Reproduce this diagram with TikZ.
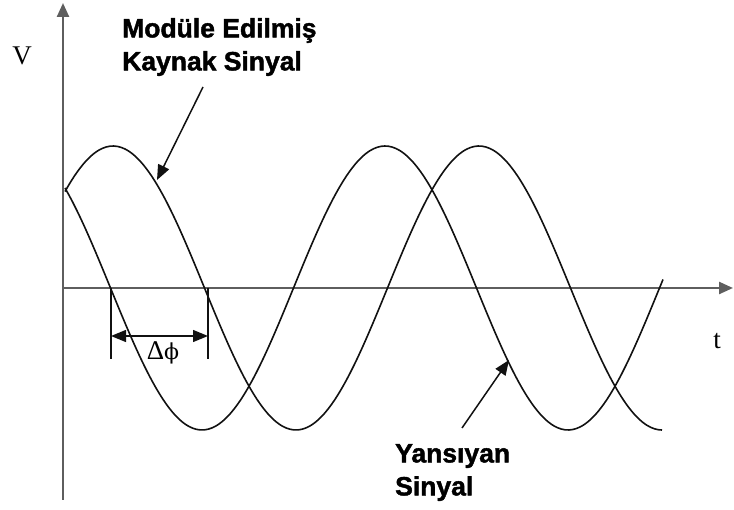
\documentclass[tikz,border=0pt]{standalone}
\usepackage{fontspec}
\setmainfont{Liberation Serif}
\newfontfamily\lblfont{Liberation Sans}[FakeBold=1.6]
\newfontfamily\phifont{DejaVu Serif}
\usetikzlibrary{arrows.meta,calc}
\definecolor{ink}{HTML}{111111}
\definecolor{axisgray}{HTML}{5E5E5E}
\tikzset{
  axis/.style={draw=axisgray,line width=2.4pt,-{Triangle[length=14pt,width=12pt]}},
  wave/.style={draw=ink,line width=1.6pt},
  pointer/.style={draw=ink,line width=1.5pt,-{Triangle[length=15pt,width=12pt]}},
  dimline/.style={draw=ink,line width=1.3pt,{Triangle[length=15pt,width=12pt]}-{Triangle[length=15pt,width=12pt]}},
  tickline/.style={draw=ink,line width=1.3pt},
  sig/.style={font=\lblfont\bfseries\fontsize{26.5}{33}\selectfont,align=left,inner sep=0pt},
  sym/.style={font=\fontsize{27}{30}\selectfont,inner sep=0pt},
}
\begin{document}
\begin{tikzpicture}[x=1pt,y=-1pt]
\useasboundingbox (0,0) rectangle (734,510);
\coordinate (O) at (63,288);
\coordinate (vbot) at (63,500);
\coordinate (vtop) at (63,3);
\coordinate (hend) at (733,288);
\draw[axis] (vbot) -- (vtop);
\draw[axis] (O) -- (hend);
\foreach \pk/\xe in {113/662,19/663}
  \draw[wave] plot[domain=65:\xe,samples=160,smooth] (\x,{288-142*cos(360*((\x-\pk)/366))});
\coordinate (zA) at (111,288);
\coordinate (zB) at (208,288);
\draw[tickline] (zA) -- ++(0,71);
\draw[tickline] (zB) -- ++(0,71);
\draw[dimline] ($(zA)+(0,48)$) -- ($(zB)+(0,48)$);
\node[sym] (dphi) at (163,353) {Δ{\phifont\fontsize{22}{26}\selectfont ϕ}};
\node[sig,anchor=north west] (srcLbl) at (122,18) {Modüle Edilmiş\\Kaynak Sinyal};
\coordinate (srcTail) at (203,87);
\coordinate (srcTip) at (157,180);
\draw[pointer] (srcTail) -- (srcTip);
\node[sig,anchor=north west] (refLbl) at (395,444) {Yansıyan\\Sinyal};
\coordinate (refTail) at (462,428);
\coordinate (refTip) at (509,360);
\draw[pointer] (refTail) -- (refTip);
\node[sym] (vLbl) at (22,56) {V};
\node[sym] (tLbl) at (717,341) {t};
\end{tikzpicture}
\end{document}
